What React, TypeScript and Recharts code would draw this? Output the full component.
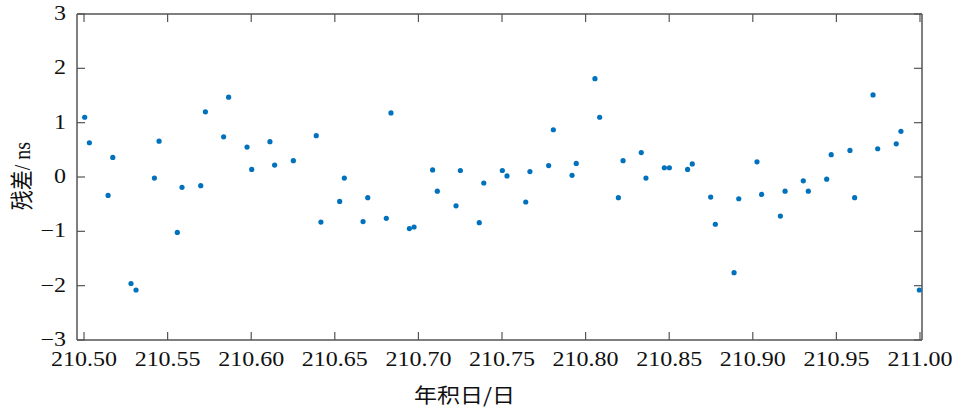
import React from 'react';
import { ScatterChart, Scatter, XAxis, YAxis, Label } from 'recharts';

// day-of-year (fraction) and residual in ns
const days = [
  210.5004, 210.5032, 210.5144, 210.5172, 210.5281, 210.5311, 210.5421, 210.5449,
  210.5558, 210.5586, 210.5698, 210.5726, 210.5835, 210.5865, 210.5975, 210.6003,
  210.6112, 210.614, 210.6252, 210.6389, 210.6417, 210.6529, 210.6557, 210.6669,
  210.6697, 210.6808, 210.6836, 210.6946, 210.6974, 210.7085, 210.7113, 210.7225,
  210.7251, 210.7364, 210.7391, 210.7502, 210.753, 210.7642, 210.7667, 210.7779,
  210.7807, 210.7919, 210.7944, 210.8056, 210.8084, 210.8196, 210.8224, 210.8333,
  210.8361, 210.8471, 210.8501, 210.861, 210.8638, 210.8748, 210.8776, 210.8888,
  210.8916, 210.9025, 210.9053, 210.9165, 210.9193, 210.9302, 210.9332, 210.9442,
  210.9469, 210.9581, 210.9609, 210.9719, 210.9747, 210.9858, 210.9886, 210.9996,
];
const residuals = [
  1.1, 0.63, -0.34, 0.36, -1.96, -2.08, -0.02, 0.66,
  -1.02, -0.19, -0.16, 1.2, 0.74, 1.47, 0.55, 0.14,
  0.65, 0.22, 0.3, 0.76, -0.83, -0.45, -0.02, -0.82,
  -0.38, -0.76, 1.18, -0.95, -0.92, 0.13, -0.26, -0.53,
  0.12, -0.84, -0.11, 0.12, 0.02, -0.46, 0.1, 0.21,
  0.87, 0.03, 0.25, 1.81, 1.1, -0.38, 0.3, 0.45,
  -0.02, 0.17, 0.17, 0.14, 0.24, -0.37, -0.87, -1.76,
  -0.4, 0.28, -0.32, -0.72, -0.26, -0.07, -0.26, -0.04,
  0.41, 0.49, -0.38, 1.51, 0.52, 0.61, 0.84, -2.08,
];
const xTicks = [210.5, 210.55, 210.6, 210.65, 210.7, 210.75, 210.8, 210.85, 210.9, 210.95, 211.0];
const yTicks = [-3, -2, -1, 0, 1, 2, 3];

const data = days.map((d, i) => ({ d, r: residuals[i] }));

const FRAME = '#555555';
const SERIF = 'Liberation Serif, Times New Roman, serif';
const CJK = 'Noto Sans CJK SC, sans-serif';
const TICK = 8;

const fmtY = (v: number) => (v < 0 ? '\u2212' + Math.abs(v) : String(v));

const BottomTick = (p: any) => (
  <g>
    <line x1={p.x} x2={p.x} y1={p.y} y2={p.y - TICK} stroke={FRAME} strokeWidth={1.2} />
    <text
      transform={`translate(${p.x},${p.y + 26}) scale(1.2,1)`}
      textAnchor="middle"
      style={{ fontFamily: SERIF, fontSize: 20 }}
      fill="#111"
    >
      {Number(p.payload.value).toFixed(2)}
    </text>
  </g>
);

const TopTick = (p: any) => (
  <line x1={p.x} x2={p.x} y1={p.y} y2={p.y + TICK} stroke={FRAME} strokeWidth={1.2} />
);

const LeftTick = (p: any) => (
  <g>
    <line x1={p.x} x2={p.x + TICK} y1={p.y} y2={p.y} stroke={FRAME} strokeWidth={1.2} />
    <text
      transform={`translate(${p.x - 11},${p.y + 6}) scale(1.2,1)`}
      textAnchor="end"
      style={{ fontFamily: SERIF, fontSize: 20 }}
      fill="#111"
    >
      {fmtY(p.payload.value)}
    </text>
  </g>
);

const RightTick = (p: any) => (
  <line x1={p.x} x2={p.x - TICK} y1={p.y} y2={p.y} stroke={FRAME} strokeWidth={1.2} />
);

const XTitle = (p: any) => {
  const vb = p.viewBox;
  return (
    <text
      transform={`translate(${vb.x + vb.width / 2 - 35},${vb.y + 63}) scale(1.15,1)`}
      textAnchor="middle"
      style={{ fontFamily: CJK, fontSize: 20 }}
      fill="#111"
    >
      年积日/日
    </text>
  );
};

const YTitle = (p: any) => {
  const vb = p.viewBox;
  return (
    <text
      transform={`translate(30,${vb.y + vb.height / 2 - 1}) rotate(-90) scale(1,1.15)`}
      textAnchor="middle"
      style={{ fontFamily: CJK, fontSize: 20 }}
      fill="#111"
    >
      <tspan>残差</tspan>
      <tspan style={{ fontFamily: SERIF }}>/ ns</tspan>
    </text>
  );
};

const Dot = (p: any) => <circle cx={p.cx} cy={p.cy} r={2.6} fill="#0072BD" />;
const Nothing = () => <g />;

export default function App() {
  return (
    <div style={{ position: 'absolute', left: 0, top: 0, background: '#fff' }}>
      <ScatterChart width={966} height={410} margin={{ top: 13, right: 43, bottom: 0, left: 0 }}>
        <XAxis
          xAxisId="b"
          dataKey="d"
          type="number"
          domain={[210.4958, 211.0012]}
          ticks={xTicks}
          allowDataOverflow
          height={70}
          tickLine={false}
          tickSize={0}
          tickMargin={0}
          axisLine={{ stroke: FRAME, strokeWidth: 1.5 }}
          tick={BottomTick}
          interval={0}
        >
          <Label content={XTitle} />
        </XAxis>
        <XAxis
          xAxisId="t"
          orientation="top"
          dataKey="d"
          type="number"
          domain={[210.4958, 211.0012]}
          ticks={xTicks}
          allowDataOverflow
          height={1}
          tickLine={false}
          tickSize={0}
          tickMargin={0}
          axisLine={{ stroke: FRAME, strokeWidth: 1.5 }}
          tick={TopTick}
          interval={0}
        />
        <YAxis
          yAxisId="l"
          dataKey="r"
          type="number"
          domain={[-3, 3]}
          ticks={yTicks}
          allowDataOverflow
          width={77}
          tickLine={false}
          tickSize={0}
          tickMargin={0}
          axisLine={{ stroke: FRAME, strokeWidth: 1.5 }}
          tick={LeftTick}
          interval={0}
        >
          <Label content={YTitle} />
        </YAxis>
        <YAxis
          yAxisId="r"
          orientation="right"
          dataKey="r"
          type="number"
          domain={[-3, 3]}
          ticks={yTicks}
          allowDataOverflow
          width={1}
          tickLine={false}
          tickSize={0}
          tickMargin={0}
          axisLine={{ stroke: FRAME, strokeWidth: 1.5 }}
          tick={RightTick}
          interval={0}
        />
        <Scatter data={data} xAxisId="t" yAxisId="r" shape={Nothing} isAnimationActive={false} />
        <Scatter data={data} xAxisId="b" yAxisId="l" shape={Dot} isAnimationActive={false} />
      </ScatterChart>
    </div>
  );
}
